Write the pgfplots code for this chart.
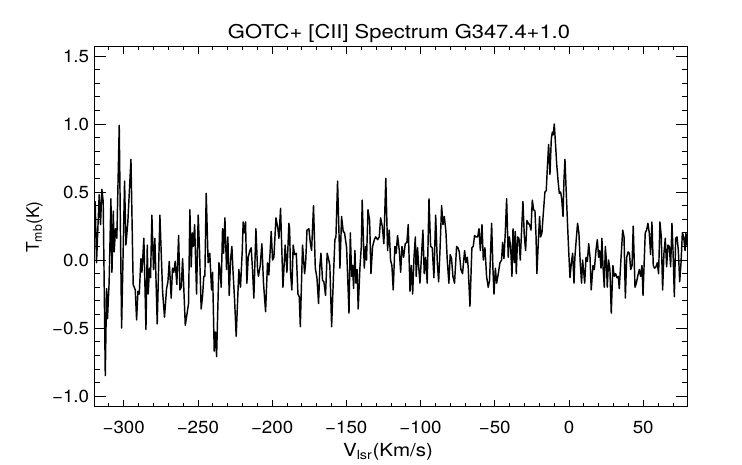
\documentclass[border=0pt]{standalone}
\usepackage{fontspec}
\setmainfont{TeX Gyre Heros}
\usepackage{graphicx}
\usepackage{pgfplots}
\pgfplotsset{compat=1.18}
\newcommand{\sx}[1]{\scalebox{1.07}[1]{#1}}
\begin{document}
\begin{tikzpicture}
\useasboundingbox (0,0) rectangle (742pt,464pt);
\begin{axis}[
  at={(94pt,57.3pt)}, anchor=south west, scale only axis,
  width=593.7pt, height=360pt,
  xmin=-320, xmax=80, ymin=-1.078, ymax=1.568,
  xtick={-300,-250,-200,-150,-100,-50,0,50},
  xticklabels={\sx{−300},\sx{−250},\sx{−200},\sx{−150},\sx{−100},\sx{−50},\sx{0},\sx{50}},
  minor xtick={-310,-290,-280,-270,-260,-240,-230,-220,-210,-190,-180,-170,-160,-140,-130,-120,-110,-90,-80,-70,-60,-40,-30,-20,-10,10,20,30,40,60,70},
  ytick=\empty,
  tick align=inside,
  major tick length=7pt, minor tick length=3.5pt,
  every tick/.style={black, line width=0.7pt},
  axis line style={black, line width=0.7pt},
  xticklabel style={font=\fontsize{17.5}{20}\selectfont, inner sep=0pt, yshift=-14pt},
  clip=true,
]
\addplot[black, line width=1.45pt, line join=round] coordinates {
(-320.0,0.30) (-319.2,0.43) (-318.3,-0.02) (-316.5,0.48) (-315.6,0.26) (-314.7,0.52) (-313.8,0.43)
(-312.4,-0.85) (-311.5,-0.21) (-310.9,-0.43) (-309.8,-0.16) (-308.6,0.45) (-307.9,-0.09) (-307.0,0.36)
(-306.4,0.06) (-305.5,0.23) (-304.6,0.16) (-303.0,0.99) (-301.4,-0.50) (-299.4,0.58) (-298.5,0.11)
(-297.2,0.28) (-295.1,0.74) (-293.6,-0.18) (-292.2,-0.22) (-291.3,-0.44) (-290.4,-0.23) (-289.5,-0.25)
(-288.4,0.01) (-287.7,-0.09) (-286.4,0.16) (-285.0,-0.51) (-284.1,0.11) (-283.5,-0.25) (-282.6,-0.06)
(-281.9,-0.13) (-281.0,0.33) (-279.9,-0.07) (-279.0,0.16) (-277.4,-0.47) (-275.6,0.33) (-273.8,-0.23)
(-272.5,-0.42) (-271.1,-0.21) (-270.2,-0.16) (-269.3,-0.01) (-268.0,-0.28) (-267.1,-0.06) (-266.2,-0.09)
(-265.3,-0.01) (-264.2,-0.18) (-263.0,0.18) (-262.1,-0.22) (-261.2,-0.20) (-260.3,0.01) (-258.5,-0.48)
(-256.3,-0.32) (-255.4,0.37) (-254.5,-0.05) (-253.8,0.20) (-253.1,0.10) (-252.2,0.26) (-250.9,-0.25)
(-249.8,0.33) (-248.9,0.07) (-247.8,-0.36) (-246.9,-0.27) (-246.0,-0.12) (-245.3,-0.12) (-244.4,0.49)
(-243.1,-0.02) (-242.0,0.05) (-240.8,-0.22) (-240.1,-0.09) (-239.0,-0.67) (-238.1,-0.53) (-237.4,-0.71)
(-235.8,-0.02) (-234.9,-0.09) (-234.3,-0.20) (-233.4,0.23) (-232.7,0.05) (-231.8,0.31) (-230.7,-0.07)
(-229.8,0.17) (-228.9,-0.26) (-228.0,0.00) (-227.1,0.10) (-226.4,-0.07) (-225.3,-0.29) (-224.2,-0.56)
(-222.4,-0.07) (-221.3,-0.20) (-220.1,0.07) (-219.5,0.28) (-218.6,0.20) (-217.9,0.28) (-217.0,-0.17)
(-216.1,0.02) (-215.0,0.07) (-214.1,0.09) (-213.2,-0.07) (-212.3,-0.28) (-210.9,0.23) (-209.8,-0.07)
(-209.2,-0.12) (-208.0,-0.04) (-206.9,0.12) (-205.8,-0.17) (-204.4,-0.38) (-203.1,-0.02) (-202.2,-0.11)
(-200.6,0.21) (-199.7,0.00) (-198.8,0.02) (-197.4,0.31) (-196.1,0.23) (-195.4,0.16) (-194.3,0.38)
(-192.7,-0.20) (-191.2,0.11) (-190.0,-0.09) (-188.7,0.27) (-188.2,0.23) (-187.6,-0.09) (-186.7,-0.22)
(-185.8,0.11) (-184.9,0.04) (-183.7,0.05) (-182.6,-0.25) (-181.7,-0.27) (-181.0,-0.49) (-179.5,0.11)
(-178.1,-0.10) (-177.4,-0.02) (-176.5,0.22) (-175.2,0.23) (-174.3,0.13) (-173.4,0.07) (-172.1,0.40)
(-170.9,-0.06) (-169.8,-0.13) (-168.7,-0.32) (-167.8,-0.04) (-167.1,0.05) (-166.0,-0.15) (-165.1,-0.16)
(-164.0,-0.26) (-162.9,0.05) (-162.0,0.01) (-161.1,-0.04) (-159.9,-0.49) (-158.6,-0.10) (-157.7,0.15)
(-157.0,0.17) (-155.9,0.58) (-154.3,-0.06) (-153.2,0.32) (-152.1,0.21) (-151.2,0.20) (-149.8,0.09)
(-148.2,-0.39) (-147.3,0.20) (-146.4,-0.12) (-145.8,-0.04) (-145.1,-0.21) (-144.2,0.07) (-143.5,-0.17)
(-142.7,-0.07) (-142.0,-0.36) (-140.8,-0.05) (-139.9,0.10) (-139.3,0.44) (-137.9,-0.06) (-137.0,0.10)
(-136.4,0.00) (-135.4,0.37) (-134.3,0.29) (-133.4,-0.10) (-132.3,0.10) (-131.1,0.15) (-130.2,0.17)
(-128.9,0.15) (-127.8,0.17) (-126.9,0.31) (-125.8,0.25) (-124.7,0.12) (-123.4,0.60) (-122.2,0.07)
(-121.1,0.22) (-120.2,0.00) (-119.3,-0.04) (-118.4,-0.22) (-117.3,0.10) (-116.4,0.05) (-115.5,0.18)
(-114.3,0.07) (-113.4,-0.09) (-112.5,0.10) (-111.4,0.02) (-110.3,0.12) (-109.2,0.13) (-108.3,0.26)
(-107.1,-0.23) (-106.2,-0.04) (-105.3,-0.25) (-104.4,0.02) (-103.5,0.17) (-102.9,-0.12) (-102.0,0.09)
(-101.3,-0.04) (-100.4,-0.17) (-99.5,0.00) (-98.4,0.22) (-97.5,-0.10) (-96.6,0.02) (-95.5,-0.17)
(-94.3,0.45) (-93.2,0.10) (-92.1,0.09) (-91.0,-0.13) (-89.8,0.33) (-88.7,-0.02) (-87.8,-0.16)
(-86.9,0.07) (-85.8,0.40) (-84.9,0.26) (-84.0,0.32) (-82.9,0.21) (-82.0,0.00) (-80.9,-0.17)
(-80.0,0.04) (-79.1,0.01) (-78.2,-0.12) (-77.1,-0.17) (-75.7,0.10) (-74.8,0.09) (-73.9,0.06)
(-72.8,-0.07) (-71.7,-0.10) (-70.3,0.07) (-69.4,-0.02) (-68.5,0.02) (-67.9,-0.05) (-66.7,-0.34)
(-65.4,0.09) (-64.5,0.10) (-63.6,0.18) (-62.7,0.17) (-61.5,0.17) (-60.6,0.23) (-59.7,0.07)
(-58.6,0.26) (-57.7,0.00) (-56.6,0.09) (-55.5,-0.12) (-54.4,-0.20) (-53.5,-0.15) (-52.1,0.27)
(-51.2,-0.07) (-50.5,-0.25) (-49.6,-0.06) (-48.7,-0.17) (-47.6,-0.10) (-46.5,-0.02) (-45.4,0.00)
(-44.7,0.13) (-43.8,0.01) (-42.9,0.20) (-42.0,0.45) (-40.9,0.02) (-40.2,0.17) (-39.3,0.10)
(-38.4,-0.12) (-37.7,0.23) (-36.8,-0.02) (-36.2,0.21) (-35.5,-0.10) (-34.6,0.17) (-33.7,0.16)
(-32.8,0.00) (-31.9,0.22) (-31.0,0.43) (-30.1,0.18) (-29.2,0.07) (-28.3,0.29) (-27.4,0.27)
(-26.5,0.26) (-25.6,0.22) (-24.7,0.44) (-23.8,0.37) (-22.9,0.36) (-22.2,0.18) (-21.6,-0.10)
(-20.7,0.12) (-19.8,0.32) (-19.1,0.17) (-18.2,0.20) (-17.3,0.34) (-16.2,0.50) (-15.3,0.51)
(-14.6,0.67) (-13.7,0.85) (-12.8,0.63) (-11.9,0.89) (-11.2,0.94) (-10.6,0.92) (-9.9,1.00)
(-9.2,0.88) (-8.3,0.71) (-7.4,0.59) (-6.5,0.49) (-5.6,0.50) (-4.9,0.45) (-4.0,0.32)
(-3.4,0.58) (-2.7,0.74) (-1.8,0.49) (-0.9,0.25) (-0.2,0.07) (0.7,-0.13) (1.6,-0.02)
(2.5,0.05) (3.4,-0.17) (4.0,0.02) (4.9,0.15) (5.8,0.27) (6.7,0.20) (7.6,-0.02)
(8.5,-0.17) (9.2,0.00) (10.6,-0.17) (11.5,0.02) (12.4,-0.01) (13.3,0.12) (14.2,0.02)
(15.0,-0.22) (16.2,-0.04) (17.1,-0.07) (18.2,0.07) (19.1,0.15) (20.0,0.02) (20.7,0.07)
(21.6,-0.06) (22.2,0.16) (22.9,-0.04) (23.8,-0.20) (24.5,0.10) (25.2,0.00) (25.8,-0.20)
(26.7,0.00) (27.6,-0.07) (28.5,-0.39) (29.6,-0.04) (30.5,-0.12) (31.4,-0.10) (32.3,-0.13)
(33.2,-0.12) (33.9,-0.21) (35.0,0.00) (36.2,0.22) (37.1,0.17) (38.0,-0.28) (38.9,0.02)
(39.8,0.06) (40.7,0.05) (41.6,-0.07) (42.5,-0.04) (43.3,0.25) (44.5,-0.20) (45.4,-0.17)
(46.5,-0.11) (47.4,-0.07) (48.3,-0.12) (49.2,-0.04) (49.9,-0.26) (50.8,0.02) (51.4,0.20)
(52.3,0.22) (53.2,0.27) (54.1,0.20) (55.0,0.04) (55.9,0.28) (56.8,-0.04) (57.7,-0.06)
(58.6,-0.05) (59.5,-0.02) (60.4,-0.10) (61.3,0.28) (62.2,0.17) (63.1,-0.22) (64.0,0.05)
(64.9,0.16) (65.8,-0.05) (66.7,0.11) (67.6,0.10) (68.5,-0.05) (69.4,0.27) (70.1,0.07)
(71.0,-0.27) (71.9,0.16) (72.8,0.17) (73.7,0.07) (74.6,-0.16) (75.5,-0.02) (76.4,0.20)
(77.3,0.17) (78.2,0.07) (78.8,0.20) (79.5,0.11) (80.0,0.16)
};
\end{axis}
\begin{axis}[
  at={(94pt,57.3pt)}, anchor=south west, scale only axis,
  width=593.7pt, height=360pt,
  xmin=-320, xmax=80, ymin=-1.078, ymax=1.568,
  xtick=\empty,
  ytick={-1,-0.5,0,0.5,1,1.5},
  yticklabels={\sx{−1.0},\sx{−0.5},\sx{0.0},\sx{0.5},\sx{1.0},\sx{1.5}},
  minor ytick={-1.0,-0.9,-0.8,-0.7,-0.6,-0.4,-0.3,-0.2,-0.1,0.1,0.2,0.3,0.4,0.6,0.7,0.8,0.9,1.1,1.2,1.3,1.4},
  tick align=inside,
  major tick length=12pt, minor tick length=6pt,
  every tick/.style={black, line width=0.7pt},
  axis line style={black, line width=0.7pt},
  yticklabel style={font=\fontsize{17.5}{20}\selectfont, inner sep=0pt, xshift=-4.7pt},
]
\end{axis}
\node[anchor=base, font=\fontsize{19}{22}\selectfont] at (399pt,425.7pt) {\scalebox{1.155}[1]{GOTC+ [CII] Spectrum G347.4+1.0}};
\node[anchor=base, font=\fontsize{18}{20}\selectfont] at (388pt,8pt) {\scalebox{1.14}[1]{V\textsubscript{lsr}(Km/s)}};
\node[anchor=base, rotate=90, font=\fontsize{17.5}{20}\selectfont] at (39pt,237pt) {T\textsubscript{mb}(K)};
\end{tikzpicture}
\end{document}
